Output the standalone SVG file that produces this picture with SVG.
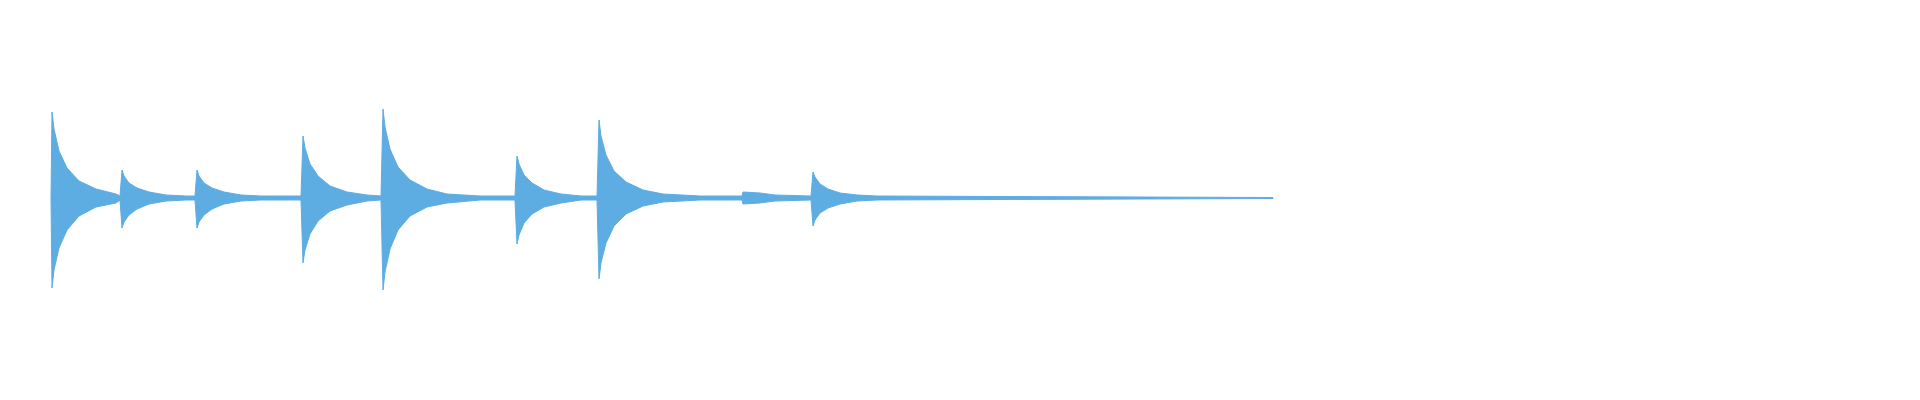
<svg xmlns="http://www.w3.org/2000/svg" width="1920" height="400" viewBox="0 0 1920 400">
<style>.w{fill:#5dade2;stroke:#5dade2;stroke-width:1}</style>
<rect width="1920" height="400" fill="#ffffff"/>
<g id="waveform">
<path class="w" d="M51,198 L52,112 54,129 59,151 67,168 79,181 96,189 116,194 120,196 L122,170 124,176 129,183 137,188 149,192 166,195 186,196 195,196 L197,170 199,176 204,183 212,188 224,192 241,195 261,196 301,196 L303,136 305,148 310,164 318,176 330,186 347,192 367,195 381,196 L383,109 385,127 390,149 398,167 410,180 427,189 447,194 480,196 515,196 L517,156 519,164 524,175 532,183 544,190 561,194 581,196 597,196 L599,120 601,136 606,155 614,171 626,182 643,190 663,194 700,196 742,196 L743,192 760,193 775,195 811,196 L813,172 815,177 820,184 828,189 840,193 857,195 877,196 1000,196.5 1273,197.5 L1273,198.5 1000,199.5 877,200 857,201 840,204 828,208 820,213 815,220 813,226 811,200 775,201 760,203 743,204 742,200 700,200 663,202 643,206 626,214 614,226 606,243 601,263 599,279 597,200 581,200 561,203 544,207 532,214 524,223 519,235 517,244 515,200 480,200 447,203 427,207 410,216 398,230 390,249 385,272 383,290 381,200 367,201 347,205 330,211 318,221 310,234 305,250 303,263 301,200 261,200 241,201 224,204 212,209 204,215 199,222 197,228 195,200 186,200 166,201 149,204 137,209 129,215 124,222 122,228 120,200 116,203 96,207 79,216 67,230 59,248 54,270 52,288 Z"/>
</g>
</svg>
